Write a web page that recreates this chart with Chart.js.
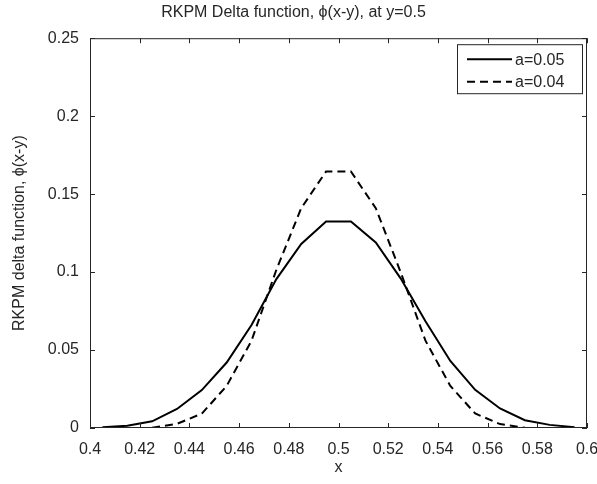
<!DOCTYPE html>
<html>
<head>
<meta charset="utf-8">
<script src="https://cdn.jsdelivr.net/npm/chart.js@4"></script>
<style>
  html, body { margin: 0; padding: 0; background: #fff; }
  #wrap { width: 597px; height: 484px; }
</style>
</head>
<body>
<div id="wrap"><canvas id="deltaChart" width="597" height="484"></canvas></div>
<script>
// values
const xA05 = [0.405, 0.415, 0.425, 0.435, 0.445, 0.455, 0.465, 0.475, 0.485, 0.495,
              0.505, 0.515, 0.525, 0.535, 0.545, 0.555, 0.565, 0.575, 0.585, 0.595];
const phiA05 = [0.0005, 0.0015, 0.0043, 0.0122, 0.0243, 0.042, 0.066, 0.0955, 0.118, 0.1325,
                0.1325, 0.119, 0.096, 0.0685, 0.043, 0.0245, 0.0125, 0.005, 0.002, 0.0005];

const xA04 = [0.425, 0.435, 0.445, 0.455, 0.465, 0.475, 0.485, 0.495,
              0.505, 0.515, 0.525, 0.535, 0.545, 0.555, 0.565, 0.575];
const phiA04 = [0.0002, 0.0027, 0.0092, 0.027, 0.056, 0.1015, 0.141, 0.1645,
                0.1645, 0.141, 0.100, 0.056, 0.027, 0.0093, 0.0025, 0.0002];

const seriesLabels = ['a=0.05', 'a=0.04'];
const xRange = [0.4, 0.6];
const yRange = [0, 0.25];

const FONT = "'Liberation Sans', Arial, Helvetica, sans-serif";
const INK = '#262626';

const toPoints = (xs, ys) => xs.map((x, i) => ({ x: x, y: ys[i] }));
const fmt = v => String(+v.toFixed(2));

// MATLAB style box with inward ticks on all four sides, plus the legend
const boxAndLegend = {
    id: 'boxAndLegend',
    afterDatasetsDraw(chart) {
        const { ctx, chartArea: a, scales: { x, y } } = chart;
        ctx.save();
        ctx.strokeStyle = INK;
        ctx.lineWidth = 1;
        ctx.strokeRect(a.left + 0.5, a.top + 0.5, a.width - 1, a.height - 1);

        ctx.beginPath();
        x.ticks.forEach(t => {
            const px = Math.round(x.getPixelForValue(t.value)) + 0.5;
            ctx.moveTo(px, a.bottom); ctx.lineTo(px, a.bottom - 5);
            ctx.moveTo(px, a.top); ctx.lineTo(px, a.top + 5);
        });
        y.ticks.forEach(t => {
            const py = Math.round(y.getPixelForValue(t.value)) + 0.5;
            ctx.moveTo(a.left, py); ctx.lineTo(a.left + 5, py);
            ctx.moveTo(a.right, py); ctx.lineTo(a.right - 5, py);
        });
        ctx.stroke();

        // legend box in the upper right corner
        const bx = a.right - 130, by = a.top + 6, bw = 125, bh = 49;
        ctx.fillStyle = '#fff';
        ctx.fillRect(bx, by, bw, bh);
        ctx.strokeRect(bx + 0.5, by + 0.5, bw, bh);

        ctx.font = '16px ' + FONT;
        ctx.textBaseline = 'middle';
        chart.data.datasets.forEach((ds, i) => {
            const rowY = by + 15 + i * 22.5;
            ctx.beginPath();
            ctx.strokeStyle = ds.borderColor;
            ctx.lineWidth = ds.borderWidth;
            ctx.setLineDash(ds.borderDash || []);
            ctx.moveTo(bx + 10, rowY);
            ctx.lineTo(bx + 55, rowY);
            ctx.stroke();
            ctx.setLineDash([]);
            ctx.fillStyle = INK;
            ctx.fillText(ds.label, bx + 58, rowY + 1);
        });
        ctx.restore();
    }
};

const ctx = document.getElementById('deltaChart').getContext('2d');

new Chart(ctx, {
    type: 'line',
    data: {
        datasets: [{
            label: seriesLabels[0],
            data: toPoints(xA05, phiA05),
            borderColor: '#000',
            borderWidth: 2,
            pointRadius: 0,
            tension: 0,
            fill: false
        }, {
            label: seriesLabels[1],
            data: toPoints(xA04, phiA04),
            borderColor: '#000',
            borderWidth: 2,
            borderDash: [8, 5],
            pointRadius: 0,
            tension: 0,
            fill: false
        }]
    },
    options: {
        responsive: false,
        animation: false,
        layout: { padding: { left: 0, right: 10, top: 0, bottom: 0 } },
        plugins: {
            legend: { display: false },
            tooltip: { enabled: false },
            title: {
                display: true,
                text: 'RKPM Delta function, ϕ(x-y), at y=0.5',
                color: INK,
                font: { family: FONT, size: 16, weight: 'normal' },
                padding: { top: 3, bottom: 16 }
            }
        },
        scales: {
            x: {
                type: 'linear',
                min: xRange[0],
                max: xRange[1],
                grid: { display: false, drawTicks: false },
                border: { display: false },
                ticks: {
                    stepSize: 0.02,
                    color: INK,
                    padding: 12,
                    maxRotation: 0,
                    autoSkip: false,
                    font: { family: FONT, size: 16 },
                    callback: v => fmt(v)
                },
                title: {
                    display: true,
                    text: 'x',
                    color: INK,
                    font: { family: FONT, size: 16 },
                    padding: { top: 2, bottom: 7 }
                },
                afterFit: s => { s.height = 56; s.paddingLeft = 0; s.paddingRight = 0; }
            },
            y: {
                type: 'linear',
                min: yRange[0],
                max: yRange[1],
                grid: { display: false, drawTicks: false },
                border: { display: false },
                ticks: {
                    stepSize: 0.05,
                    color: INK,
                    padding: 11,
                    font: { family: FONT, size: 16 },
                    callback: v => fmt(v)
                },
                title: {
                    display: true,
                    text: 'RKPM delta function, ϕ(x-y)',
                    color: INK,
                    font: { family: FONT, size: 16 },
                    padding: { top: 10, bottom: 4 }
                },
                afterFit: s => { s.width = 90; s.paddingTop = 0; s.paddingBottom = 0; }
            }
        }
    },
    plugins: [boxAndLegend]
});
</script>
</body>
</html>
